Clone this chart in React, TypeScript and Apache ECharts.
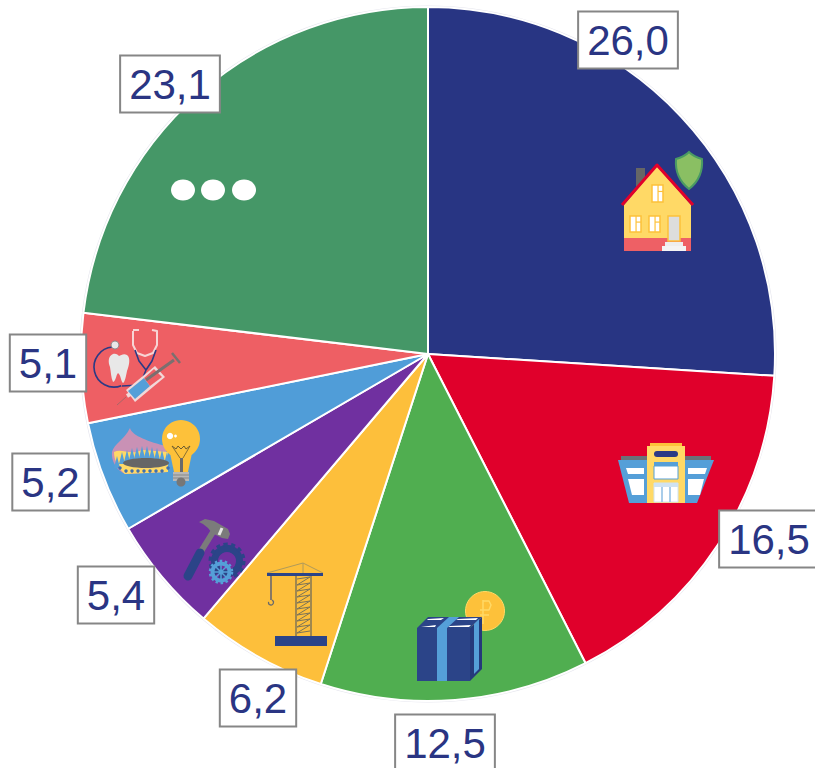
import React, { useEffect, useRef } from "react";
import * as echarts from "echarts";

const categories = ["Housing", "Trade", "Education", "Construction", "Industry", "Utilities", "Health", "Other"];
const values = [26.0, 16.5, 12.5, 6.2, 5.4, 5.2, 5.1, 23.1];
const valueLabels = ["26,0", "16,5", "12,5", "6,2", "5,4", "5,2", "5,1", "23,1"];
const sliceColors = ["#283583", "#e0002b", "#50ae50", "#fdbf3b", "#7030a0", "#509dd8", "#ee5f64", "#459767"];
const labelCenters = [[628, 40], [769, 539], [445, 743], [258, 698], [116, 595], [50.5, 482], [48, 363], [170, 84]];

const NAVY = "#2b4488";
const BLUE = "#559fd8";
const GOLD = "#fdc13a";
const PALE = "#ffd966";

echarts.graphic.registerShape("shield", echarts.graphic.extendPath(
  "M689 152 C693 156 698 158 702 159 C703 172 698 182 689 189 C680 182 675 172 676 159 C680 158 685 156 689 152 Z", {}));
echarts.graphic.registerShape("tooth", echarts.graphic.extendPath(
  "M113 354 C116 353 118 355 119 356 C121 355 124 353 127 355 C131 358 129 366 127 371 C126 376 125 382 123 383 C121 382 121 375 118 373 C116 375 116 381 113 382 C111 378 111 372 110 367 C108 362 108 356 113 354 Z", {}));
echarts.graphic.registerShape("flamePink", echarts.graphic.extendPath(
  "M130 428 C132 436 150 442 166 446 L168 472 L125 474 C116 470 111 460 112 452 C114 444 124 440 130 428 Z", {}));
echarts.graphic.registerShape("flameYellow", echarts.graphic.extendPath(
  "M114 452 C122 448 130 456 142 450 L168 452 L168 472 L125 474 C118 468 114 460 114 452 Z", {}));

const rect = (x: number, y: number, w: number, h: number, fill: string, extra: any = {}) => ({
  type: "rect", silent: true, shape: { x, y, width: w, height: h, r: extra.r || 0 },
  style: { fill, stroke: extra.stroke, lineWidth: extra.lw },
});
const poly = (points: number[][], fill: string) => ({ type: "polygon", silent: true, shape: { points }, style: { fill } });
const pline = (points: number[][], stroke: string, lineWidth = 1, extra: any = {}) => ({
  type: "polyline", silent: true, shape: { points }, style: { stroke, lineWidth, fill: "none", lineCap: extra.cap || "butt", lineJoin: "round", opacity: extra.op ?? 1 },
});
const seg = (x1: number, y1: number, x2: number, y2: number, stroke: string, lineWidth = 1, cap = "butt") => ({
  type: "line", silent: true, shape: { x1, y1, x2, y2 }, style: { stroke, lineWidth, lineCap: cap },
});
const circ = (cx: number, cy: number, r: number, fill: string, stroke?: string, lw?: number, dash?: number[]) => ({
  type: "circle", silent: true, shape: { cx, cy, r }, style: { fill, stroke, lineWidth: lw, lineDash: dash },
});
const shape = (type: string, fill: string, stroke?: string, lw?: number) => ({
  type, silent: true, x: 0, y: 0, style: { fill, stroke, lineWidth: lw },
});

const win = (x: number, y: number, w: number, h: number) => [
  rect(x, y, w, h, "#fff", { stroke: GOLD, lw: 1.5 }),
  seg(x + w * 0.55, y, x + w * 0.55, y + h, GOLD, 1.2),
  seg(x + w * 0.55, y + h * 0.38, x + w, y + h * 0.38, GOLD, 1.2),
];

const house = [
  rect(636, 168, 9, 20, "#666"),
  poly([[657, 166], [691, 205], [691, 238], [624, 238], [624, 205]], PALE),
  rect(624, 238, 67, 13, "#ee6065"),
  pline([[622, 205], [657, 165], [693, 205]], "#e2002b", 3),
  ...win(652, 185, 11, 17),
  ...win(630, 216, 11, 16),
  ...win(649, 216, 11, 16),
  rect(668, 216, 12, 25, "#ddd", { stroke: GOLD, lw: 1.5 }),
  rect(665, 242, 18, 4, "#eee"),
  rect(662, 246, 24, 5, "#f4f4f4"),
  shape("shield", "#8abf63", "#4a9a63", 2),
];

const shop = [
  rect(621, 456, 90, 5, "#6b7278"),
  poly([[618, 460], [714, 460], [697, 503], [629, 503]], BLUE),
  poly([[626, 468], [644, 468], [644, 474], [628, 474]], "#fff"),
  poly([[628, 479], [644, 479], [644, 495], [632, 495]], "#fff"),
  poly([[688, 468], [707, 468], [705, 474], [688, 474]], "#fff"),
  poly([[688, 479], [704, 479], [700, 495], [688, 495]], "#fff"),
  rect(647, 446, 38, 57, PALE),
  rect(650, 443, 32, 3, GOLD),
  rect(654, 451, 24, 6, "#2b3a85", { r: 3 }),
  rect(654, 462, 24, 4, BLUE),
  rect(654, 466, 24, 13, "#fff", { stroke: BLUE, lw: 1 }),
  rect(654, 483, 24, 19, "#fff", { stroke: "#cfe2f2", lw: 1 }),
  rect(654, 483, 24, 4, "#cfe2f2"),
  seg(662, 487, 662, 502, "#a9cdea", 2),
  seg(670, 487, 670, 502, "#a9cdea", 2),
];

const box = [
  circ(485, 611, 19.5, GOLD, PALE, 1),
  seg(483, 600, 483, 624, PALE, 1.5),
  pline([[483, 601], [489, 601], [491, 605], [489, 610], [480, 610]], PALE, 1.5),
  seg(480, 615, 489, 615, PALE, 1.5),
  poly([[470, 628], [482, 617], [482, 669], [470, 681]], "#25397a"),
  poly([[417, 628], [428, 617], [482, 617], [470, 628]], NAVY),
  poly([[421, 627], [436, 625], [435, 627]], "#fff"),
  poly([[428, 619], [444, 618], [441, 620], [427, 620]], "#fff"),
  poly([[450, 626], [471, 625], [469, 627], [448, 627]], "#fff"),
  poly([[458, 619], [478, 618], [476, 620], [456, 620]], "#fff"),
  rect(417, 628, 53, 53, NAVY),
  rect(437, 628, 10, 53, BLUE),
  poly([[437, 628], [447, 628], [459, 617], [449, 617]], BLUE),
  poly([[474, 624], [479, 619], [479, 669], [474, 674]], BLUE),
];

const craneZig: number[][] = [[297, 579], [310, 577], [297, 585], [310, 583], [297, 591], [310, 589], [297, 597], [310, 595], [297, 603], [310, 601], [297, 609], [310, 607], [297, 615], [310, 613], [297, 621], [310, 619], [297, 627], [310, 625], [297, 633], [310, 631]];
const crane = [
  pline([[267, 573], [303, 563], [323, 573]], "#b09a5a", 1),
  seg(303, 563, 303, 573, "#b09a5a", 1),
  seg(296, 576, 296, 636, "#6f6a5a", 1.3),
  seg(311, 576, 311, 636, "#6f6a5a", 1.3),
  pline(craneZig, "#7a7358", 1),
  rect(267, 573, 56, 3, NAVY),
  seg(271, 576, 271, 600, "#3a4a80", 1.2),
  { type: "arc", silent: true, shape: { cx: 271, cy: 602.5, r: 2.5, startAngle: -1.2, endAngle: 3.4, clockwise: true }, style: { stroke: "#6a6a6a", lineWidth: 1.2, fill: "none" } },
  rect(275, 636, 52, 10, NAVY),
];

const hammer = [
  seg(213, 532, 200, 553, "#7b7b7b", 6),
  poly([[199, 522], [205, 519], [214, 521], [228, 529], [230, 534], [228, 539], [222, 538], [212, 533], [208, 528], [203, 524]], "#7b7b7b"),
  seg(222, 528, 219, 535, "#e6e6e6", 3),
  seg(200, 553, 188, 576, NAVY, 9, "round"),
  circ(227, 561, 12.5, "none", NAVY, 7),
  circ(227, 561, 16.5, "none", NAVY, 4, [4, 3.4]),
  circ(221, 572, 8.5, "none", BLUE, 4),
  circ(221, 572, 11, "none", BLUE, 2.5, [2.5, 2.5]),
  circ(221, 572, 2.5, BLUE),
  seg(213, 572, 229, 572, BLUE, 1.5),
  seg(221, 564, 221, 580, BLUE, 1.5),
  seg(215, 566, 227, 578, BLUE, 1.5),
  seg(227, 566, 215, 578, BLUE, 1.5),
];

const medical = [
  { type: "arc", silent: true, shape: { cx: 114, cy: 367, r: 20, startAngle: -1.65, endAngle: 1.2, clockwise: false }, style: { stroke: "#2b3a85", lineWidth: 1.6, fill: "none" } },
  pline([[122, 386], [140, 385], [146, 370]], "#2b3a85", 1.6),
  circ(115, 345, 4, "#e8e8e8", "#8a8a8a", 1),
  shape("tooth", "#e8e8e8"),
  pline([[133, 331], [133, 345], [137, 353], [145, 356], [153, 353], [157, 345], [157, 331], [152, 330]], "#f7d5d5", 2),
  seg(133, 330, 139, 330, "#f7d5d5", 2),
  pline([[135, 350], [139, 361], [146, 370]], "#2b3a85", 1.6),
  pline([[156, 350], [152, 361], [146, 370]], "#2b3a85", 1.6),
  seg(117, 405, 126, 397, "#a66", 1),
  seg(127, 396, 132, 393, "#f2d8d8", 4),
  poly([[126, 390], [155, 366], [165, 377], [135, 402]], "#f2d8d8"),
  poly([[128, 391], [144, 378], [150, 386], [135, 399]], BLUE),
  poly([[144, 378], [154, 369], [162, 377], [150, 386]], "#ee5f64"),
  seg(146, 380, 174, 360, "#7b6f6f", 3),
  seg(172, 353, 180, 363, "#7b6f6f", 2.5),
];

const flames: any[] = [];
const flameX = [117, 122, 127, 132, 137, 142, 147, 152, 157, 162, 167, 171];
flameX.forEach((x, i) => {
  const top = [456, 452, 450, 448, 447, 446, 446, 447, 448, 450, 452, 455][i];
  flames.push(poly([[x, top], [x + 3, top + 12], [x - 3, top + 12]], BLUE));
});
const dotsX = [120, 126, 132, 138, 144, 150, 156, 162, 168];
const utilities = [
  shape("flamePink", "#c991b5"),
  shape("flameYellow", PALE),
  ...flames,
  { type: "ellipse", silent: true, shape: { cx: 146, cy: 463, rx: 23, ry: 5 }, style: { fill: "#666" } },
  ...dotsX.map((x, i) => circ(x, i === 0 || i === 8 ? 468 : 471, 1.7, "#3f6fb0")),
  circ(181, 439, 19, GOLD),
  poly([[170, 453], [192, 453], [188, 472], [174, 472]], GOLD),
  pline([[172, 446], [176, 449], [178, 446], [181, 449], [184, 446], [186, 449], [190, 446]], "#6a5a30", 1),
  seg(172, 446, 180, 458, "#6a5a30", 0.8),
  seg(190, 446, 183, 458, "#6a5a30", 0.8),
  rect(180, 458, 3, 14, "#6a6a6a"),
  rect(173, 472, 16, 9, "#b8b8b8"),
  seg(173, 475, 189, 475, "#888", 1),
  seg(173, 478, 189, 478, "#888", 1),
  circ(181, 482, 4.5, "#777"),
  circ(170, 436, 3.2, "#fff"),
  circ(175.5, 436, 1.4, "#fff"),
];

const dots = [
  { type: "ellipse", silent: true, shape: { cx: 183, cy: 190, rx: 12, ry: 10.5 }, style: { fill: "#fff" } },
  { type: "ellipse", silent: true, shape: { cx: 213, cy: 190, rx: 12, ry: 10.5 }, style: { fill: "#fff" } },
  { type: "ellipse", silent: true, shape: { cx: 244, cy: 190, rx: 12, ry: 10.5 }, style: { fill: "#fff" } },
];

export default function App() {
  const ref = useRef<HTMLDivElement>(null);
  useEffect(() => {
    const chart = echarts.init(ref.current!, null, { renderer: "svg" });
    chart.setOption({
      animation: false,
      backgroundColor: "#fff",
      graphic: {
        elements: [...house, ...shop, ...box, ...crane, ...hammer, ...medical, ...utilities, ...dots].map((el: any) => ({ ...el, z: 50 })),
      },
      series: [
        {
          type: "pie",
          silent: true,
          center: [428, 354],
          radius: [0, 348.5],
          z: 1,
          startAngle: 90,
          data: [{ value: 1, itemStyle: { color: "#e6e6ee" } }],
          label: { show: false },
          labelLine: { show: false },
        },
        {
          type: "pie",
          silent: true,
          center: [428, 354],
          radius: [0, 347],
          z: 2,
          startAngle: 90,
          clockwise: true,
          data: categories.map((name, i) => ({
            name,
            value: values[i],
            itemStyle: { color: sliceColors[i], borderColor: "#fff", borderWidth: 2 },
          })),
          label: {
            show: true,
            position: "inside",
            overflow: "none",
            formatter: (p: any) => valueLabels[p.dataIndex],
            fontFamily: "Liberation Sans",
            fontSize: 42,
            lineHeight: 47,
            color: "#2a3583",
            backgroundColor: "#fff",
            borderColor: "#868686",
            borderWidth: 2,
            padding: [4, 8, 4, 8],
          },
          labelLine: { show: false },
          labelLayout: (p: any) => ({
            x: labelCenters[p.dataIndex][0],
            y: labelCenters[p.dataIndex][1],
            align: "center",
            verticalAlign: "middle",
            hideOverlap: false,
          }),
        },
      ],
    });
    return () => chart.dispose();
  }, []);
  return <div ref={ref} style={{ position: "absolute", left: 0, top: 0, width: 815, height: 768 }} />;
}
